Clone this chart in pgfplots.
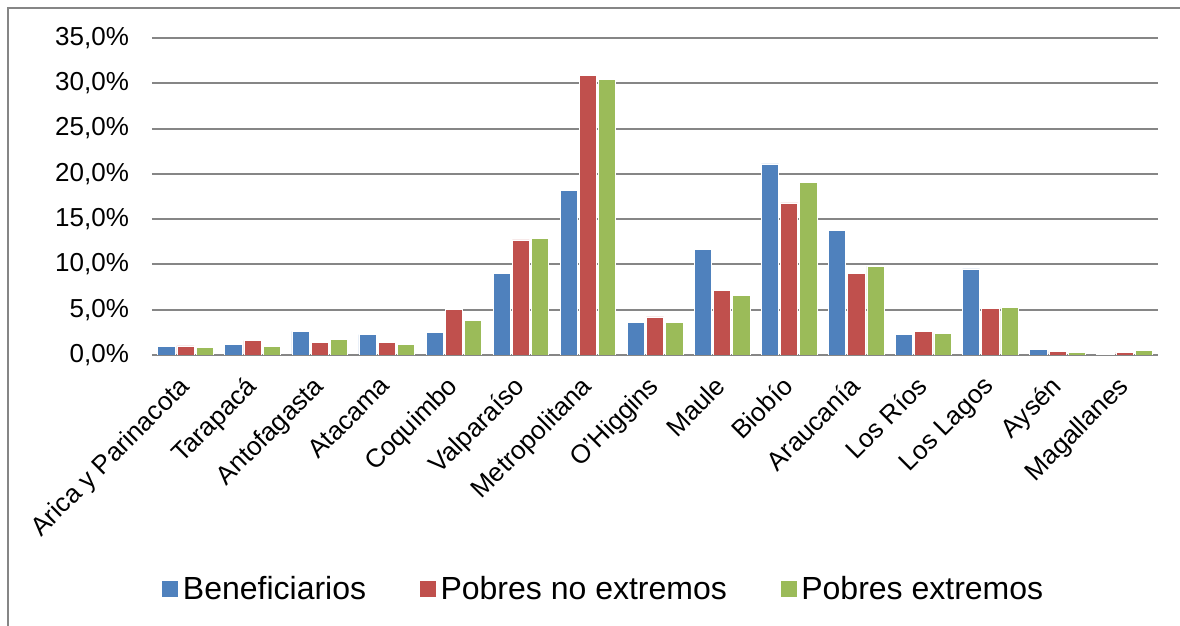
\documentclass[border=0pt]{standalone}
\usepackage{fontspec}
\setmainfont{Liberation Sans}
\usepackage{pgfplots}
\pgfplotsset{compat=1.18}
\definecolor{cB}{RGB}{79,129,189}
\definecolor{cR}{RGB}{192,80,77}
\definecolor{cG}{RGB}{155,187,89}
\definecolor{gridc}{RGB}{134,134,134}
\begin{document}
\begin{tikzpicture}
\useasboundingbox (0,0) rectangle (590pt,313pt);
\draw[gridc, line width=0.8pt] (4pt,-5pt) -- (4pt,309pt) -- (600pt,309pt);
\begin{axis}[
 at={(76pt,135.5pt)}, anchor=south west,
 scale only axis, width=503pt, height=158.5pt,
 ybar=1pt, bar width=8.6pt,
 xmin=-0.5, xmax=14.5, ymin=0, ymax=35,
 xtick={0,...,14},
 xticklabels={Arica y Parinacota,Tarapacá,Antofagasta,Atacama,Coquimbo,Valparaíso,Metropolitana,O'Higgins,Maule,Biobío,Araucanía,Los Ríos,Los Lagos,Aysén,Magallanes},
 ytick={0,5,10,15,20,25,30,35},
 yticklabels={{0,0\%},{5,0\%},{10,0\%},{15,0\%},{20,0\%},{25,0\%},{30,0\%},{35,0\%}},
 axis line style={draw=none},
 major tick length=0pt,
 ymajorgrids, major grid style={gridc, line width=1pt},
 tick label style={font=\fontsize{13}{13}\selectfont},
 yticklabel style={xshift=-8pt},
 xticklabel style={rotate=45, anchor=north east, inner sep=0pt, xshift=-9.7pt, yshift=-3.9pt},
 legend style={at={(0.4495,-0.738)}, anchor=center, draw=none, legend columns=-1, font=\fontsize{16}{16}\selectfont, /tikz/every even column/.append style={column sep=24.3pt}},
 legend image code/.code={\fill[#1] (0pt,-4.3pt) rectangle (8.6pt,4.3pt);},
]
\addplot[fill=cB, draw=white, line width=0.3pt] coordinates {(0,0.92) (1,1.15) (2,2.6) (3,2.25) (4,2.5) (5,9.05) (6,18.2) (7,3.64) (8,11.67) (9,21.1) (10,13.76) (11,2.3) (12,9.5) (13,0.66) (14,0.1)};
\addplot[fill=cR, draw=white, line width=0.3pt] coordinates {(0,1.0) (1,1.6) (2,1.4) (3,1.4) (4,5.0) (5,12.7) (6,30.9) (7,4.2) (8,7.1) (9,16.8) (10,9.0) (11,2.57) (12,5.15) (13,0.4) (14,0.33)};
\addplot[fill=cG, draw=white, line width=0.3pt] coordinates {(0,0.8) (1,0.95) (2,1.7) (3,1.2) (4,3.8) (5,12.9) (6,30.4) (7,3.57) (8,6.6) (9,19.1) (10,9.8) (11,2.4) (12,5.25) (13,0.33) (14,0.5)};
\legend{Beneficiarios,Pobres no extremos,Pobres extremos}
\end{axis}
\end{tikzpicture}
\end{document}
